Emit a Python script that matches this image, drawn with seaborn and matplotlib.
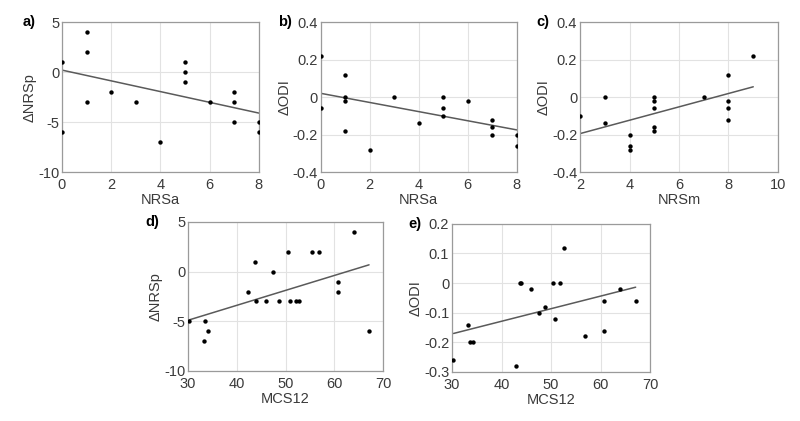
import numpy as np
import pandas as pd
import matplotlib
matplotlib.use("Agg")
from matplotlib import pyplot as plt
import seaborn as sns

# a) NRSa vs dNRSp
a_x = [0, 0, 1, 1, 1, 2, 3, 4, 5, 5, 5, 6, 7, 7, 7, 8, 8]
a_y = [1, -6, 4, 2, -3, -2, -3, -7, 1, 0, -1, -3, -2, -3, -5, -5, -6]
a_fit = (0.2, -0.5375)  # intercept, slope

# b) NRSa vs dODI
b_x = [0, 0, 1, 1, 1, 1, 2, 3, 4, 5, 5, 5, 6, 7, 7, 7, 8, 8]
b_y = [0.22, -0.06, 0.12, 0, -0.02, -0.18, -0.28, 0, -0.14, 0, -0.06, -0.1,
       -0.02, -0.12, -0.16, -0.2, -0.2, -0.26]
b_fit = (0.02, -0.0244)

# c) NRSm vs dODI
c_x = [2, 3, 3, 4, 4, 4, 5, 5, 5, 5, 5, 7, 8, 8, 8, 8, 9]
c_y = [-0.1, 0, -0.14, -0.2, -0.26, -0.28, 0, -0.02, -0.06, -0.16, -0.18,
       0, 0.12, -0.02, -0.06, -0.12, 0.22]
c_fit = (-0.2664, 0.0357)

# d) MCS12 vs dNRSp
d_x = [30.2, 33.5, 33.2, 34.1, 42.2, 43.8, 44.0, 45.9, 47.5, 48.7, 50.4, 50.9,
       52.1, 52.7, 55.4, 56.9, 60.8, 60.8, 64.1, 67.1]
d_y = [-5, -5, -7, -6, -2, 1, -3, -3, 0, -3, 2, -3, -3, -3, 2, 2, -1, -2, 4, -6]
d_fit = (-9.407, 0.1504)

# e) MCS12 vs dODI
e_x = [30.3, 33.3, 33.6, 34.2, 42.9, 43.8, 44.0, 45.9, 47.5, 48.7, 50.4, 50.9,
       51.9, 52.6, 56.8, 60.7, 60.7, 64.0, 67.1]
e_y = [-0.26, -0.14, -0.2, -0.2, -0.28, 0, 0, -0.02, -0.1, -0.08, 0, -0.12,
       0, 0.12, -0.18, -0.06, -0.16, -0.02, -0.06]
e_fit = (-0.2986, 0.004243)

panels = [
    ("a)", a_x, a_y, a_fit, "NRSa", "\u0394NRSp", (0, 8), [0, 2, 4, 6, 8], (-10, 5), [-10, -5, 0, 5]),
    ("b)", b_x, b_y, b_fit, "NRSa", "\u0394ODI", (0, 8), [0, 2, 4, 6, 8], (-0.4, 0.4), [-0.4, -0.2, 0, 0.2, 0.4]),
    ("c)", c_x, c_y, c_fit, "NRSm", "\u0394ODI", (2, 10), [2, 4, 6, 8, 10], (-0.4, 0.4), [-0.4, -0.2, 0, 0.2, 0.4]),
    ("d)", d_x, d_y, d_fit, "MCS12", "\u0394NRSp", (30, 70), [30, 40, 50, 60, 70], (-10, 5), [-10, -5, 0, 5]),
    ("e)", e_x, e_y, e_fit, "MCS12", "\u0394ODI", (30, 70), [30, 40, 50, 60, 70], (-0.3, 0.2), [-0.3, -0.2, -0.1, 0, 0.1, 0.2]),
]

positions = [
    [0.0775, 0.5914, 0.246, 0.356],
    [0.401, 0.5914, 0.245, 0.356],
    [0.725, 0.5914, 0.2475, 0.356],
    [0.235, 0.1188, 0.244, 0.354],
    [0.565, 0.1164, 0.2475, 0.352],
]
tag_x = [-0.2, -0.22, -0.22, -0.22, -0.22]

sns.set_style("whitegrid")
plt.rcParams["font.family"] = ["Liberation Sans", "DejaVu Sans"]

fig = plt.figure(figsize=[8, 4.21], dpi=100)

for pos, tx, (tag, xs, ys, fit, xl, yl, xlim, xt, ylim, yt) in zip(positions, tag_x, panels):
    ax = fig.add_axes(pos)
    df = pd.DataFrame({"x": xs, "y": ys})
    sns.scatterplot(data=df, x="x", y="y", ax=ax, color="black", s=10,
                    linewidth=0, zorder=3)
    fx = np.array([min(xs), max(xs)])
    line = pd.DataFrame({"x": fx, "y": fit[0] + fit[1] * fx})
    sns.lineplot(data=line, x="x", y="y", ax=ax, color="#5a5a5a", lw=1.1)
    ax.set_xlim(*xlim)
    ax.set_ylim(*ylim)
    ax.set_xticks(xt)
    ax.set_yticks(yt)
    ax.set_xticklabels([f"{v:g}" for v in xt])
    ax.set_yticklabels([f"{v:g}" for v in yt])
    ax.set_xlabel(xl, fontsize=10.5, color="#3a3a3a", labelpad=1)
    ax.set_ylabel(yl, fontsize=10.5, color="#3a3a3a", labelpad=1)
    ax.tick_params(labelsize=10.5, colors="#3a3a3a", length=0)
    ax.tick_params(axis="x", pad=4)
    ax.tick_params(axis="y", pad=2)
    ax.grid(color="#e2e2e2", lw=0.8)
    for sp in ax.spines.values():
        sp.set_color("#9a9a9a")
        sp.set_linewidth(0.9)
    ax.text(tx, 1.0, tag, transform=ax.transAxes, fontsize=10.5,
            fontweight="bold", ha="left", va="center", color="black")

fig.savefig("out.png", dpi=100)
